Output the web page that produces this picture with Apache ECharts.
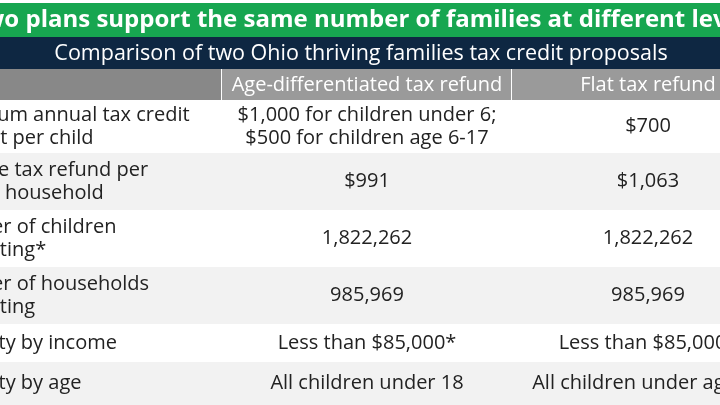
<!DOCTYPE html>
<html><head><meta charset="utf-8">
<script src="https://cdn.jsdelivr.net/npm/echarts@6/dist/echarts.min.js"></script>
<style>html,body{margin:0;padding:0;background:#fff}#chart-container{width:720px;height:405px}</style>
</head><body><div id="chart-container"></div>
<script>
var title = 'Two plans support the same number of families at different levels';
var subtitle = 'Comparison of two Ohio thriving families tax credit proposals';
var headers = ['', 'Age-differentiated tax refund', 'Flat tax refund'];
var rowLabels = [
  'Maximum annual tax credit\namount per child',
  'Average tax refund per\neligible household',
  'Number of children\nbenefitting*',
  'Number of households\nbenefitting',
  'Eligibility by income',
  'Eligibility by age'
];
var ageRefund = ['$1,000 for children under 6;\n$500 for children age 6-17', '$991', '1,822,262', '985,969', 'Less than $85,000*', 'All children under 18'];
var flatRefund = ['$700', '$1,063', '1,822,262', '985,969', 'Less than $85,000*', 'All children under age 18'];

var dom = document.getElementById('chart-container');
var myChart = echarts.init(dom);

var rowTops = [100, 153, 210, 267, 324, 362, 405];
var colX = [0, 222, 512, 790];
var font = '"Open Sans", sans-serif';
var els = [];

els.push({ type: 'rect', shape: { x: 0, y: 3, width: 720, height: 34 }, style: { fill: '#17a650' } });
els.push({ type: 'text', x: 365, y: 20, style: { text: title, fill: '#fff', font: 'bold 24px ' + font, align: 'center', verticalAlign: 'middle' } });
els.push({ type: 'rect', shape: { x: 0, y: 37, width: 720, height: 32 }, style: { fill: '#0e2742' } });
els.push({ type: 'text', x: 361, y: 54, style: { text: subtitle, fill: '#fff', font: '21.5px ' + font, align: 'center', verticalAlign: 'middle' } });

headers.forEach(function (h, i) {
  els.push({ type: 'rect', shape: { x: colX[i], y: 69, width: colX[i + 1] - colX[i] - 1, height: 31 }, style: { fill: i === 0 ? '#888888' : '#9a9a9a' } });
  els.push({ type: 'text', x: i === 2 ? 648 : (colX[i] + colX[i + 1]) / 2, y: 85, style: { text: h, fill: '#fff', font: '20px ' + font, align: 'center', verticalAlign: 'middle' } });
});

rowLabels.forEach(function (lab, r) {
  var y0 = rowTops[r], y1 = rowTops[r + 1], cy = (y0 + y1) / 2;
  els.push({ type: 'rect', shape: { x: 0, y: y0, width: 720, height: y1 - y0 }, style: { fill: r % 2 ? '#f2f2f2' : '#ffffff' } });
  els.push({ type: 'text', x: -66, y: cy, style: { text: lab, fill: '#222', font: '20px ' + font, lineHeight: 23, align: 'left', verticalAlign: 'middle' } });
  els.push({ type: 'text', x: 367, y: cy, style: { text: ageRefund[r], fill: '#222', font: '20px ' + font, lineHeight: 23, align: 'center', verticalAlign: 'middle' } });
  els.push({ type: 'text', x: 648, y: cy, style: { text: flatRefund[r], fill: '#222', font: '20px ' + font, lineHeight: 23, align: 'center', verticalAlign: 'middle' } });
});

myChart.setOption({ animation: false, graphic: { elements: els } });
window.addEventListener('resize', myChart.resize);
</script></body></html>
